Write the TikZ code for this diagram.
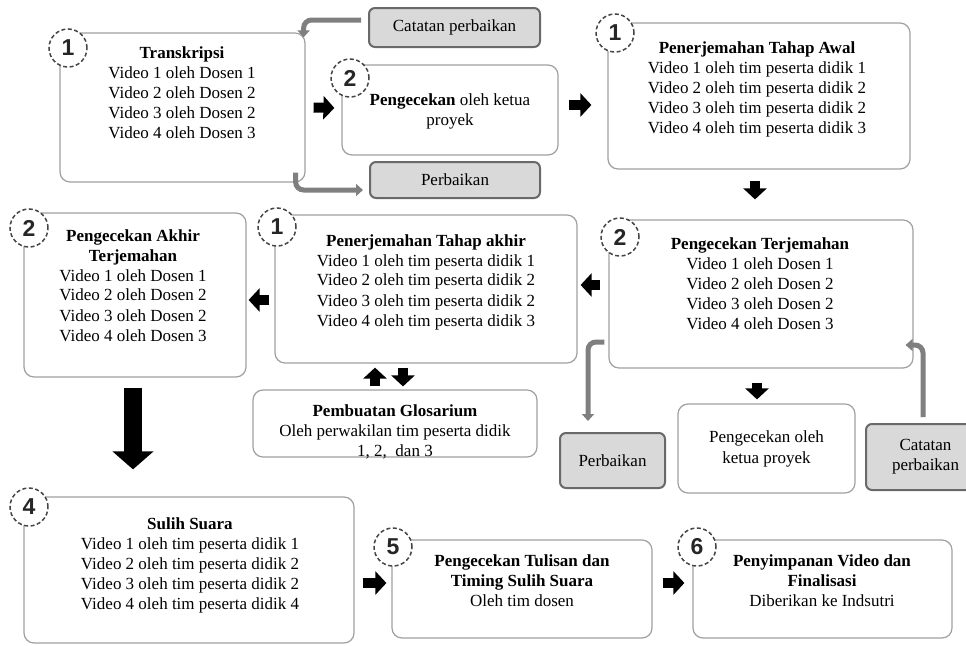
\documentclass[tikz,border=0pt]{standalone}
\usepackage{fontspec}
\setmainfont{Liberation Serif}
\newfontfamily\angkafont{Liberation Sans}
\usetikzlibrary{arrows.meta,calc}
\definecolor{garisabu}{RGB}{160,160,160}
\definecolor{isiabu}{RGB}{217,217,217}
\definecolor{tepiabu}{RGB}{105,105,105}
\definecolor{panahabu}{RGB}{127,127,127}
\definecolor{lingkar}{RGB}{70,70,70}

\tikzset{
  kotak/.style={draw=garisabu, line width=1.2pt, rounded corners=10pt, fill=white},
  kotakabu/.style={draw=tepiabu, fill=isiabu, line width=2pt, rounded corners=6pt,
    align=center, font=\fontsize{17}{20}\selectfont},
  teks/.style={align=center, inner sep=0pt, anchor=north, font=\fontsize{17}{20}\selectfont},
  nomor/.style={circle, draw=lingkar, dash pattern=on 4pt off 2.5pt, line width=1.5pt,
    fill=white, minimum size=38pt, inner sep=0pt, text=black!85,
    font=\angkafont\bfseries\fontsize{23}{23}\selectfont},
  blok/.style={line width=10pt, -{Triangle[length=11pt,width=23pt]}},
  blokbesar/.style={line width=18pt, -{Triangle[length=18pt,width=40pt]}},
  abu/.style={color=panahabu, line width=5pt, rounded corners=8pt, -{Triangle[length=7pt,width=12pt]}}
}

\begin{document}
\begin{tikzpicture}[x=1pt,y=-1pt]
  \useasboundingbox (0,0) rectangle (966,645);

  % kotak-kotak
  \node[kotak, minimum width=245pt, minimum height=149pt] (trans) at (182.5,107.5) {};
  \node[kotak, minimum width=216pt, minimum height=90pt] (cek1) at (450,110) {};
  \node[kotak, minimum width=302pt, minimum height=146pt] (awal) at (759,96) {};
  \node[kotak, minimum width=304pt, minimum height=148pt] (terj) at (761,294) {};
  \node[kotak, minimum width=302pt, minimum height=148pt] (akhir) at (426,289) {};
  \node[kotak, minimum width=284pt, minimum height=67pt] (glos) at (395,423.5) {};
  \node[kotak, minimum width=222pt, minimum height=164pt] (pakhir) at (135,295) {};
  \node[kotak, minimum width=330pt, minimum height=146pt] (sulih) at (189,570) {};
  \node[kotak, minimum width=260pt, minimum height=98pt] (tulis) at (522,589) {};
  \node[kotak, minimum width=259pt, minimum height=98pt] (simpan) at (822.5,589) {};
  \node[kotak, align=center, font=\fontsize{17}{21}\selectfont,
    minimum width=177pt, minimum height=89pt] (cek2) at (766.5,448.5)
    {Pengecekan oleh\\ketua proyek};

  \node[kotakabu, minimum width=171pt, minimum height=39pt] (catat1) at (454.5,27.5) {Catatan perbaikan};
  \node[kotakabu, minimum width=170pt, minimum height=36pt] (perb1) at (455,180) {Perbaikan};
  \node[kotakabu, minimum width=105pt, minimum height=55pt] (perb2) at (612.5,460.5) {Perbaikan};
  \node[kotakabu, minimum width=119pt, minimum height=66pt] (catat2) at (925.5,457) {Catatan\\perbaikan};

  % nomor tahap
  \foreach \x/\y/\nama/\d in {68/48/trans/1, 350/78/cek1/2, 615/33/awal/1, 620/237/terj/2,
    277/227/akhir/1, 29/228/pakhir/2, 29/507/sulih/4, 393/547/tulis/5, 697/547/simpan/6}
    \node[nomor] (n-\nama) at (\x,\y) {\d};

  % isi kotak
  \node[teks] (trans-t) at (182,47) {\textbf{Transkripsi}\\Video 1 oleh Dosen 1\\Video 2 oleh Dosen 2\\
    Video 3 oleh Dosen 2\\Video 4 oleh Dosen 3};
  \node[teks] (cek1-t) at (450,94) {\textbf{Pengecekan} oleh ketua\\proyek};
  \node[teks] (awal-t) at (757,42) {\textbf{Penerjemahan Tahap Awal}\\
    Video 1 oleh tim peserta didik 1\\Video 2 oleh tim peserta didik 2\\
    Video 3 oleh tim peserta didik 2\\Video 4 oleh tim peserta didik 3};
  \node[teks] (terj-t) at (760,237) {\textbf{Pengecekan Terjemahan}\\Video 1 oleh Dosen 1\\
    Video 2 oleh Dosen 2\\Video 3 oleh Dosen 2\\Video 4 oleh Dosen 3};
  \node[teks] (akhir-t) at (426,234) {\textbf{Penerjemahan Tahap akhir}\\
    Video 1 oleh tim peserta didik 1\\Video 2 oleh tim peserta didik 2\\
    Video 3 oleh tim peserta didik 2\\Video 4 oleh tim peserta didik 3};
  \node[teks] (glos-t) at (395,404) {\textbf{Pembuatan Glosarium}\\
    Oleh perwakilan tim peserta didik\\1, 2,\ \ dan 3};
  \node[teks] (pakhir-t) at (133,229) {\textbf{Pengecekan Akhir}\\\textbf{Terjemahan}\\
    Video 1 oleh Dosen 1\\Video 2 oleh Dosen 2\\Video 3 oleh Dosen 2\\Video 4 oleh Dosen 3};
  \node[teks] (sulih-t) at (190,517) {\textbf{Sulih Suara}\\
    Video 1 oleh tim peserta didik 1\\Video 2 oleh tim peserta didik 2\\
    Video 3 oleh tim peserta didik 2\\Video 4 oleh tim peserta didik 4};
  \node[teks] (tulis-t) at (522,554) {\textbf{Pengecekan Tulisan dan}\\
    \textbf{Timing Sulih Suara}\\Oleh tim dosen};
  \node[teks] (simpan-t) at (822,554) {\textbf{Penyimpanan Video dan}\\
    \textbf{Finalisasi}\\Diberikan ke Indsutri};

  % panah abu-abu
  \draw[abu] ($(catat1.west)+(-7,-7.5)$) -| ($(trans.north east)+(-2,5)$);
  \draw[abu] ($(trans.south east)+(-10,-10)$) |- ($(perb1.west)+(-6,10)$);
  \draw[abu] ($(terj.west)+(-4,48)$) -| ($(perb2.north)+(-24.5,-11)$);
  \draw[abu] ($(catat2.north)+(-2.5,-6)$) |- ($(terj.east)+(-8,51)$);

  % panah hitam
  \draw[blok] ($(trans.east)+(8,0)$) -- ($(cek1.west)+(-7,-2)$);
  \draw[blok] ($(cek1.east)+(10,-5)$) -- ($(awal.west)+(-16,9)$);
  \draw[blok] ($(awal.south)+(-4,11)$) -- ($(terj.north)+(-6,-20)$);
  \draw[blok] ($(terj.west)+(-8,-9)$) -- ($(akhir.east)+(3,-4)$);
  \draw[blok] ($(akhir.west)+(-5,11)$) -- ($(pakhir.east)+(2,5)$);
  \draw[blok] ($(glos.north)+(-20,-3)$) -- ($(akhir.south)+(-51,4)$);
  \draw[blok] ($(akhir.south)+(-23,4)$) -- ($(glos.north)+(8,-3)$);
  \draw[blok] ($(terj.south)+(-4,14)$) -- ($(cek2.north)+(-9.5,-4)$);
  \draw[blokbesar] ($(pakhir.south)+(-2,10)$) -- ($(sulih.north)+(-56,-27)$);
  \draw[blok] ($(sulih.east)+(8,13)$) -- ($(tulis.west)+(-5,-6)$);
  \draw[blok] ($(tulis.east)+(10,-6)$) -- ($(simpan.west)+(-8,-6)$);
\end{tikzpicture}
\end{document}
